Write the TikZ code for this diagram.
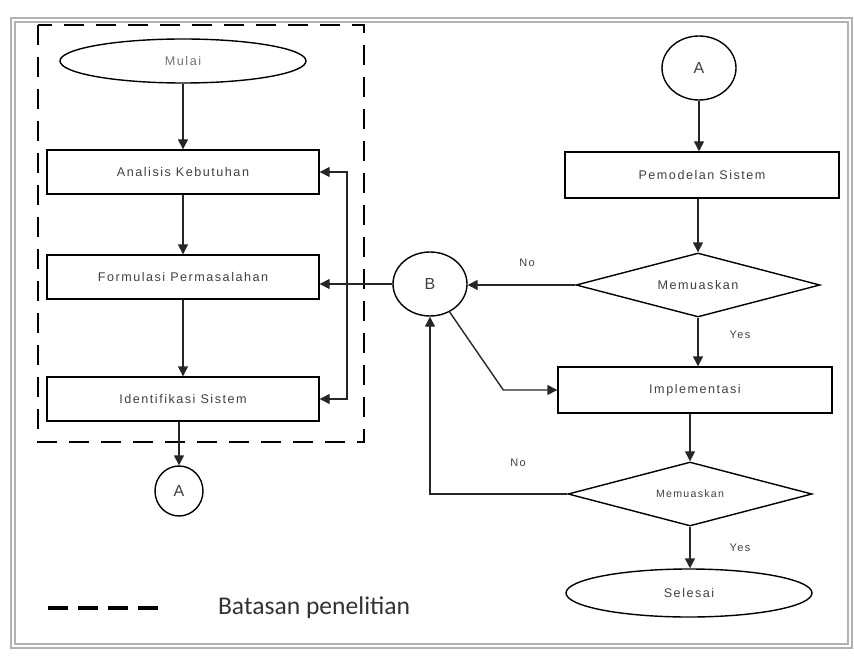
\documentclass[tikz,border=0pt]{standalone}
\usepackage{fontspec}
\setmainfont{Liberation Sans}[LetterSpace=12]
\newfontfamily\legendfont{Carlito}
\usepackage{tikz}
\usetikzlibrary{arrows.meta, positioning, shapes.geometric, calc}

\begin{document}
\begin{tikzpicture}[x=0.5pt, y=-0.5pt,
    arrow/.style={-{Triangle[length=5pt, width=5pt]}, line width=0.7pt, black!85},
    kotak/.style={draw, line width=0.7pt, minimum width=136pt, minimum height=22pt,
                  inner sep=0pt, font=\fontsize{6.3}{7}\selectfont, text=black!75},
    terminal/.style={kotak, ellipse, minimum width=123pt},
    konektor/.style={kotak, ellipse, minimum width=37pt, minimum height=32pt,
                     font=\fontsize{8}{9}\selectfont},
    keputusan/.style={kotak, diamond, aspect=4, minimum width=122pt, minimum height=32pt},
    ket/.style={font=\fontsize{5.5}{6}\selectfont, text=black!75, inner sep=1pt}]
    \useasboundingbox (0,0) rectangle (854,657);

    % frame
    \draw[gray!60, line width=0.9pt, double, double distance=0.8pt] (13,20) rectangle (850,646);

    % Batasan penelitian
    \draw[line width=1.4pt, dash pattern=on 10pt off 6pt] (38,25) rectangle (364,442);

    % left column
    \node[terminal, text=black!55] (mulai) at (183,61) {Mulai};
    \node[kotak] (analisis) at (183,172) {Analisis Kebutuhan};
    \node[kotak] (formulasi) at (183,277) {Formulasi Permasalahan};
    \node[kotak] (identifikasi) at (183,399) {Identifikasi Sistem};
    \node[konektor, minimum width=24pt, minimum height=25pt] (aKiri) at (179,491) {A};

    % right column
    \node[konektor] (aKanan) at (699,68) {A};
    \node[kotak, minimum width=137pt, minimum height=23pt] (pemodelan) at (702,175) {Pemodelan Sistem};
    \node[keputusan] (cek1) at (698,285) {Memuaskan};
    \node[konektor] (b) at (430,284) {B};
    \node[kotak, minimum width=137pt, minimum height=23pt] (impl) at (695,390) {Implementasi};
    \node[keputusan, font=\fontsize{5.3}{6}\selectfont] (cek2) at (690,494) {Memuaskan};
    \node[terminal, minimum height=24pt] (selesai) at (689,593) {Selesai};

    % labels
    \node[ket] (no1) at (527,263) {No};
    \node[ket] (yes1) at (740,335) {Yes};
    \node[ket] (no2) at (518,463) {No};
    \node[ket] (yes2) at (740,548) {Yes};

    % arrows
    \draw[arrow] (mulai) -- (analisis);
    \draw[arrow] (analisis) -- (formulasi);
    \draw[arrow] (formulasi) -- (identifikasi);
    \draw[arrow] (identifikasi.south -| aKiri) -- (aKiri);
    \draw[arrow] (aKanan) -- (aKanan |- pemodelan.north);
    \draw[arrow] (pemodelan.south -| cek1) -- (cek1);
    \draw[arrow] (cek1.west) -- (cek1.west -| b.east);
    \draw[arrow] (cek1) -- (cek1 |- impl.north);
    \draw[arrow] (impl.south -| cek2) -- (cek2);
    \draw[arrow] (cek2) -- (cek2 |- selesai.north);
    \draw[arrow] (cek2.west) -| (b.south);

    % B back to the left column
    \coordinate (cabang) at (347,284);
    \draw[arrow] (b.west) -- (formulasi.east |- b.west);
    \draw[arrow] (cabang) |- (analisis.east);
    \draw[arrow] (cabang) |- (identifikasi.east);
    \draw[arrow] (b.-55) -- ([xshift=-27pt]impl.west) -- (impl.west);

    % Legend
    \draw[line width=2pt, dash pattern=on 10pt off 5pt] (48,608) -- (160,608);
    \node[font=\legendfont\fontsize{12.8}{14}\selectfont, text=black!80, anchor=west] (legenda) at (211,608) {Batasan penelitian};
\end{tikzpicture}
\end{document}
